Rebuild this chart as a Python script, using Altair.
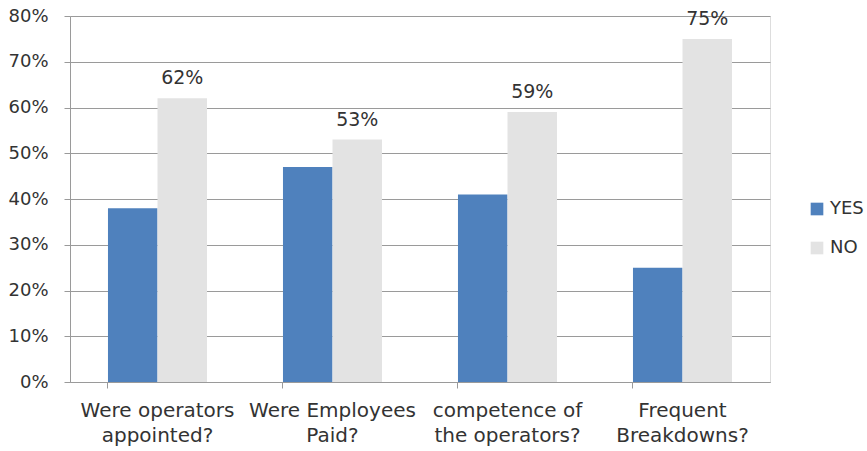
import altair as alt
import pandas as pd

categories = ["Were operators|appointed?", "Were Employees|Paid?",
              "competence of|the operators?", "Frequent|Breakdowns?"]
yes_values = [0.38, 0.47, 0.41, 0.25]
no_values = [0.62, 0.53, 0.59, 0.75]
series = ["YES", "NO"]

rows = []
for c, y, n in zip(categories, yes_values, no_values):
    rows.append({"cat": c, "series": "YES", "value": y})
    rows.append({"cat": c, "series": "NO", "value": n})
df = pd.DataFrame(rows)

FONT = "DejaVu Sans"
TXT = "#333333"
GRID = "#9a9a9a"

x = alt.X("cat:N", sort=categories, title=None,
          scale=alt.Scale(paddingInner=0.434, paddingOuter=0.217),
          axis=alt.Axis(labelExpr="split(datum.label, '|')", labelAngle=0,
                        bandPosition=0, tickSize=6, domainColor=GRID, tickColor=GRID,
                        labelFont=FONT, labelFontSize=20, labelColor=TXT,
                        labelPadding=12, labelLineHeight=25, grid=False))
xo = alt.XOffset("series:N", sort=series)
y = alt.Y("value:Q", title=None,
          scale=alt.Scale(domain=[0, 0.8], nice=False),
          axis=alt.Axis(format=".0%", values=[i / 10 for i in range(9)],
                        grid=True, gridColor=GRID, domainColor=GRID, tickColor=GRID,
                        tickSize=6, labelFont=FONT, labelFontSize=18, labelColor=TXT,
                        labelPadding=16))

bars = alt.Chart(df).mark_bar().encode(
    x=x, xOffset=xo, y=y,
    color=alt.Color("series:N", sort=series, title=None,
                    scale=alt.Scale(domain=series, range=["#4f81bd", "#e3e3e3"]),
                    legend=alt.Legend(orient="none", legendX=738, legendY=184,
                                      symbolType="square", symbolSize=160,
                                      labelFont=FONT, labelFontSize=18, labelColor=TXT,
                                      rowPadding=21, symbolStrokeWidth=0)),
)

labels = alt.Chart(df).transform_filter(alt.datum.series == "NO").mark_text(
    baseline="bottom", dy=-10, font=FONT, fontSize=19, color=TXT
).encode(x=x, xOffset=xo, y=y, text=alt.Text("value:Q", format=".0%"))

chart = (bars + labels).properties(
    width=700, height=366,
    autosize=alt.AutoSizeParams(type="none"),
    padding={"left": 70, "top": 16, "right": 97, "bottom": 69},
).configure_view(stroke=None).configure(background="white")

chart.save("out.html", embed_options={"renderer": "svg", "actions": False})
